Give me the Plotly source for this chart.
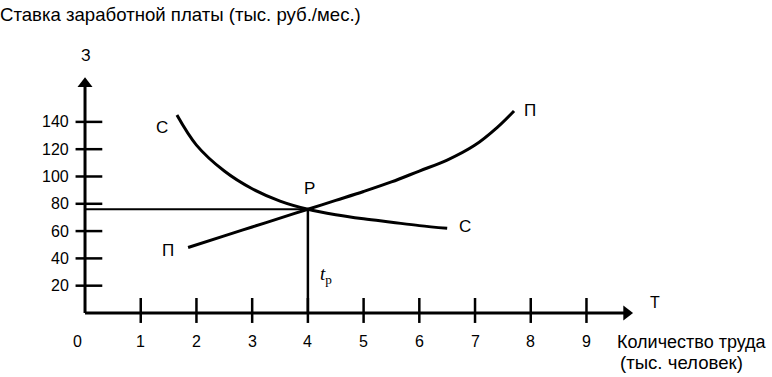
import plotly.graph_objects as go

# ---- data ----
x_ticks = [1, 2, 3, 4, 5, 6, 7, 8, 9]
x_tick_labels = ["1", "2", "3", "4", "5", "6", "7", "8", "9"]
y_ticks = [20, 40, 60, 80, 100, 120, 140]
y_tick_labels = ["20", "40", "60", "80", "100", "120", "140"]

demand_x = [1.65, 2.0, 2.5, 3.0, 3.5, 4.0, 4.5, 5.0, 5.5, 6.0, 6.5]
demand_y = [145, 123, 104, 91, 82, 76, 72, 69, 66.5, 64, 62]

supply_x = [1.85, 2.5, 3.0, 3.5, 4.0, 4.5, 5.0, 5.5, 6.0, 6.5, 7.0, 7.4, 7.7]
supply_y = [48, 56.5, 63, 69.5, 76, 82.5, 89, 96, 104, 112, 123, 136, 148]

eq_x = 4
eq_y = 76

x_axis_end = 9.87
y_axis_end = 172

FONT = "Liberation Sans, Arial, sans-serif"
W, H = 772, 377
X_RANGE = [-1.526, 12.33]
Y_RANGE = [-46.9, 229.3]

fig = go.Figure()

# curves
fig.add_trace(go.Scatter(x=demand_x, y=demand_y, mode="lines", line=dict(color="black", width=3, shape="spline"),
                         hoverinfo="skip", showlegend=False))
fig.add_trace(go.Scatter(x=supply_x, y=supply_y, mode="lines", line=dict(color="black", width=3, shape="spline"),
                         hoverinfo="skip", showlegend=False))

# equilibrium guide lines
fig.add_trace(go.Scatter(x=[0, eq_x], y=[eq_y, eq_y], mode="lines", line=dict(color="black", width=1.8),
                         hoverinfo="skip", showlegend=False))
fig.add_trace(go.Scatter(x=[eq_x, eq_x], y=[eq_y, 0], mode="lines", line=dict(color="black", width=2.5),
                         hoverinfo="skip", showlegend=False))

# axis tick marks
xt_x, xt_y = [], []
for t in x_ticks:
    xt_x += [t, t, None]
    xt_y += [-7.3, 11, None]
fig.add_trace(go.Scatter(x=xt_x, y=xt_y, mode="lines", line=dict(color="black", width=2.5),
                         hoverinfo="skip", showlegend=False))
yt_x, yt_y = [], []
for t in y_ticks:
    yt_x += [-0.17, 0.31, None]
    yt_y += [t, t, None]
fig.add_trace(go.Scatter(x=yt_x, y=yt_y, mode="lines", line=dict(color="black", width=2.5),
                         hoverinfo="skip", showlegend=False))

# axis lines
fig.add_trace(go.Scatter(x=[0, x_axis_end - 0.15], y=[0, 0], mode="lines", line=dict(color="black", width=3),
                         hoverinfo="skip", showlegend=False))
fig.add_trace(go.Scatter(x=[0, 0], y=[0, y_axis_end - 4], mode="lines", line=dict(color="black", width=3),
                         hoverinfo="skip", showlegend=False))
# arrow heads
fig.add_trace(go.Scatter(x=[x_axis_end - 0.15], y=[0], mode="markers",
                         marker=dict(symbol="triangle-right", size=13, color="black"),
                         hoverinfo="skip", showlegend=False, cliponaxis=False))
fig.add_trace(go.Scatter(x=[0], y=[y_axis_end - 4], mode="markers",
                         marker=dict(symbol="triangle-up", size=13, color="black"),
                         hoverinfo="skip", showlegend=False, cliponaxis=False))

annotations = []
tf = dict(family=FONT, size=16, color="black")
for t, lab in zip(x_ticks, x_tick_labels):
    annotations.append(dict(x=t, y=0, xref="x", yref="y", text=lab, showarrow=False, font=tf,
                            xanchor="center", yanchor="middle", yshift=-29))
annotations.append(dict(x=0, y=0, xref="x", yref="y", text="0", showarrow=False, font=tf,
                        xanchor="center", yanchor="middle", yshift=-29, xshift=-8))
for t, lab in zip(y_ticks, y_tick_labels):
    annotations.append(dict(x=0, y=t, xref="x", yref="y", text=lab, showarrow=False, font=tf,
                            xanchor="right", yanchor="middle", xshift=-14))

# axis letters
annotations.append(dict(x=0, y=y_axis_end, xref="x", yref="y", text="З", showarrow=False, font=tf,
                        xanchor="center", yanchor="bottom", yshift=12, xshift=1))
annotations.append(dict(x=x_axis_end, y=0, xref="x", yref="y", text="Т", showarrow=False, font=tf,
                        xanchor="left", yanchor="middle", xshift=13, yshift=10))

# curve labels
lf = dict(family=FONT, size=17, color="black")
annotations.append(dict(x=demand_x[0], y=demand_y[0], xref="x", yref="y", text="С", showarrow=False, font=lf,
                        xanchor="center", yanchor="middle", xshift=-15, yshift=-12))
annotations.append(dict(x=demand_x[-1], y=demand_y[-1], xref="x", yref="y", text="С", showarrow=False, font=lf,
                        xanchor="center", yanchor="middle", xshift=18, yshift=2))
annotations.append(dict(x=supply_x[0], y=supply_y[0], xref="x", yref="y", text="П", showarrow=False, font=lf,
                        xanchor="center", yanchor="middle", xshift=-20, yshift=-3))
annotations.append(dict(x=supply_x[-1], y=supply_y[-1], xref="x", yref="y", text="П", showarrow=False, font=lf,
                        xanchor="center", yanchor="middle", xshift=16, yshift=0))
annotations.append(dict(x=eq_x, y=eq_y, xref="x", yref="y", text="Р", showarrow=False, font=lf,
                        xanchor="center", yanchor="middle", xshift=2, yshift=21))
annotations.append(dict(x=eq_x, y=eq_y, xref="x", yref="y",
                        text="<i>t</i><sub>р</sub>", showarrow=False,
                        font=dict(family="Liberation Serif, Times New Roman, serif", size=19, color="black"),
                        xanchor="left", yanchor="middle", xshift=10, yshift=-66))

# titles
big = dict(family=FONT, size=18.6, color="black")
annotations.append(dict(x=0, y=1 - 15 / H, xref="paper", yref="paper", text="Ставка заработной платы (тыс. руб./мес.)",
                        showarrow=False, font=big, xanchor="left", yanchor="middle", xshift=-2))
annotations.append(dict(x=615 / W, y=1 - 342 / H, xref="paper", yref="paper", text="Количество труда",
                        showarrow=False, font=dict(family=FONT, size=18, color="black"),
                        xanchor="left", yanchor="middle"))
annotations.append(dict(x=618 / W, y=1 - 362 / H, xref="paper", yref="paper", text="(тыс. человек)",
                        showarrow=False, font=big, xanchor="left", yanchor="middle"))

fig.update_layout(
    width=W, height=H,
    margin=dict(l=0, r=0, t=0, b=0),
    paper_bgcolor="white", plot_bgcolor="white",
    xaxis=dict(range=X_RANGE, visible=False, fixedrange=True),
    yaxis=dict(range=Y_RANGE, visible=False, fixedrange=True),
    annotations=annotations,
    showlegend=False,
)

fig.write_html("out.html", config={"displayModeBar": False},
               post_script="document.body.style.margin='0';document.body.style.overflow='hidden';")
